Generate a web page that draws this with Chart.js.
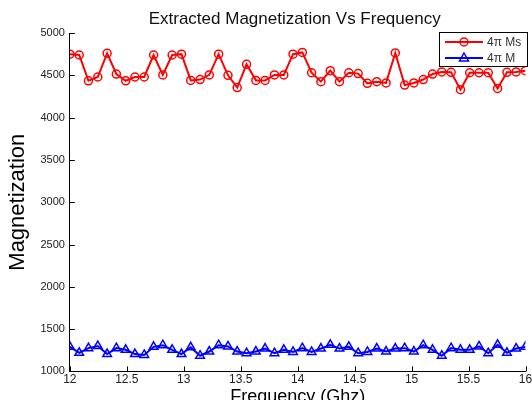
<!DOCTYPE html>
<html>
<head>
<meta charset="utf-8">
<script src="https://cdn.jsdelivr.net/npm/chart.js@4"></script>
<style>
  html, body { margin: 0; padding: 0; background: #fff; overflow: hidden; }
  #wrap { width: 532px; height: 408px; }
</style>
</head>
<body>
<div id="wrap"><canvas id="chart"></canvas></div>
<script>
// frequency points (GHz)
let freq = [12, 12.082, 12.163, 12.245, 12.327, 12.408, 12.490, 12.571, 12.653, 12.735,
  12.816, 12.898, 12.980, 13.061, 13.143, 13.224, 13.306, 13.388, 13.469, 13.551,
  13.633, 13.714, 13.796, 13.878, 13.959, 14.041, 14.122, 14.204, 14.286, 14.367,
  14.449, 14.531, 14.612, 14.694, 14.776, 14.857, 14.939, 15.020, 15.102, 15.184,
  15.265, 15.347, 15.429, 15.510, 15.592, 15.673, 15.755, 15.837, 15.918, 16];

// 4pi Ms
let ms = [4750, 4740, 4435, 4480, 4760, 4515, 4435, 4480, 4480, 4740,
  4505, 4740, 4750, 4440, 4450, 4505, 4750, 4500, 4355, 4630,
  4440, 4440, 4505, 4505, 4750, 4770, 4530, 4425, 4555, 4425,
  4530, 4520, 4405, 4425, 4410, 4765, 4385, 4410, 4450, 4515,
  4540, 4535, 4330, 4530, 4530, 4530, 4345, 4535, 4540, 4555];

// 4pi M
let m = [1290, 1220, 1275, 1300, 1205, 1275, 1255, 1205, 1195, 1290,
  1310, 1255, 1205, 1285, 1185, 1235, 1310, 1295, 1235, 1215,
  1235, 1270, 1215, 1255, 1230, 1275, 1230, 1270, 1315, 1270,
  1290, 1215, 1230, 1270, 1235, 1270, 1275, 1235, 1310, 1255,
  1185, 1275, 1255, 1255, 1295, 1215, 1315, 1220, 1270, 1290];

let seriesNames = ["4\u03c0 Ms", "4\u03c0 M"];
let xTicks = [12, 12.5, 13, 13.5, 14, 14.5, 15, 15.5, 16];
let yTicks = [1000, 1500, 2000, 2500, 3000, 3500, 4000, 4500, 5000];

const FONT = "'Liberation Sans', Arial, sans-serif";

function toPoints(ys) {
  let pts = [];
  for (let i = 0; i < freq.length; i++) {
    pts.push({ x: freq[i], y: ys[i] });
  }
  return pts;
}

function drawMarker(ctx, shape, x, y, color) {
  ctx.strokeStyle = color;
  ctx.lineWidth = 1.5;
  ctx.beginPath();
  if (shape === "circle") {
    ctx.arc(x, y, 4, 0, Math.PI * 2);
  } else {
    ctx.moveTo(x, y - 5);
    ctx.lineTo(x + 4.5, y + 3);
    ctx.lineTo(x - 4.5, y + 3);
    ctx.closePath();
  }
  ctx.stroke();
}

// matlab-ish look: title over the plot, inward ticks, boxed legend
let matlabLook = {
  id: "matlabLook",
  afterDraw(chart) {
    let ctx = chart.ctx;
    let area = chart.chartArea;
    let xs = chart.scales.x;
    let ys = chart.scales.y;
    ctx.save();

    // title
    ctx.fillStyle = "#111";
    ctx.font = "17px " + FONT;
    ctx.textAlign = "center";
    ctx.textBaseline = "middle";
    ctx.fillText("Extracted Magnetization Vs Frequency", (area.left + area.right) / 2 - 3, 19);

    // ticks pointing in
    ctx.strokeStyle = "#000";
    ctx.lineWidth = 1;
    ctx.beginPath();
    xTicks.forEach(function (v) {
      let px = Math.round(xs.getPixelForValue(v)) + 0.5;
      ctx.moveTo(px, area.bottom);
      ctx.lineTo(px, area.bottom - 5);
    });
    yTicks.forEach(function (v) {
      let py = Math.round(ys.getPixelForValue(v)) + 0.5;
      ctx.moveTo(area.left, py);
      ctx.lineTo(area.left + 5, py);
    });
    ctx.stroke();

    // legend
    let bw = 88, bh = 34;
    let bx = Math.round(area.right) - 87;
    let by = Math.round(area.top) - 1;
    ctx.fillStyle = "#fff";
    ctx.fillRect(bx, by, bw, bh);
    ctx.strokeStyle = "#000";
    ctx.strokeRect(bx + 0.5, by + 0.5, bw, bh);
    let shapes = ["circle", "triangle"];
    chart.data.datasets.forEach(function (ds, i) {
      let ly = by + 10 + i * 16;
      ctx.strokeStyle = ds.borderColor;
      ctx.lineWidth = 2;
      ctx.beginPath();
      ctx.moveTo(bx + 6, ly);
      ctx.lineTo(bx + 44, ly);
      ctx.stroke();
      drawMarker(ctx, shapes[i], bx + 25, ly, ds.borderColor);
      ctx.fillStyle = "#333";
      ctx.font = "12px " + FONT;
      ctx.textAlign = "left";
      ctx.fillText(ds.label, bx + 48, ly + 1);
    });
    ctx.restore();
  }
};

new Chart(document.getElementById("chart"), {
  type: "line",
  data: {
    datasets: [{
      label: seriesNames[0],
      data: toPoints(ms),
      borderColor: "#ff0000",
      backgroundColor: "rgba(0,0,0,0)",
      borderWidth: 2,
      pointStyle: "circle",
      pointRadius: 4,
      pointBorderWidth: 1.5,
      pointBorderColor: "#ff0000",
      pointBackgroundColor: "rgba(0,0,0,0)",
      tension: 0
    }, {
      label: seriesNames[1],
      data: toPoints(m),
      borderColor: "#0000ff",
      backgroundColor: "rgba(0,0,0,0)",
      borderWidth: 2,
      pointStyle: "triangle",
      pointRadius: 5,
      pointBorderWidth: 1.5,
      pointBorderColor: "#0000ff",
      pointBackgroundColor: "rgba(0,0,0,0)",
      tension: 0
    }]
  },
  options: {
    responsive: true,
    maintainAspectRatio: false,
    animation: false,
    layout: { padding: { left: 5, right: 0, top: 33, bottom: 0 } },
    plugins: {
      title: { display: false },
      legend: { display: false },
      tooltip: { enabled: false }
    },
    scales: {
      x: {
        type: "linear",
        min: 12,
        max: 16,
        afterBuildTicks(scale) {
          scale.ticks = xTicks.map(v => ({ value: v }));
        },
        afterFit(scale) {
          // let the "16" label run to the edge like the original
          scale.paddingRight = 6;
        },
        ticks: {
          color: "#222",
          font: { family: FONT, size: 12, lineHeight: 1 },
          padding: 2,
          maxRotation: 0,
          callback: v => String(v)
        },
        grid: { display: false, drawTicks: false, tickLength: 0 },
        border: { display: true, color: "#000", width: 1 },
        title: {
          display: true,
          text: "Frequency (Ghz)",
          color: "#000",
          font: { family: FONT, size: 18 },
          padding: { top: -1, bottom: 0 }
        }
      },
      y: {
        min: 1000,
        max: 5000,
        afterBuildTicks(scale) {
          scale.ticks = yTicks.map(v => ({ value: v }));
        },
        ticks: {
          color: "#222",
          font: { family: FONT, size: 11 },
          padding: 5,
          callback: v => String(v)
        },
        grid: { display: false, drawTicks: false, tickLength: 0 },
        border: { display: true, color: "#000", width: 1 },
        title: {
          display: true,
          text: "Magnetization",
          color: "#000",
          font: { family: FONT, size: 22 },
          padding: { top: 0, bottom: 4 }
        }
      }
    }
  },
  plugins: [matlabLook]
});
</script>
</body>
</html>
